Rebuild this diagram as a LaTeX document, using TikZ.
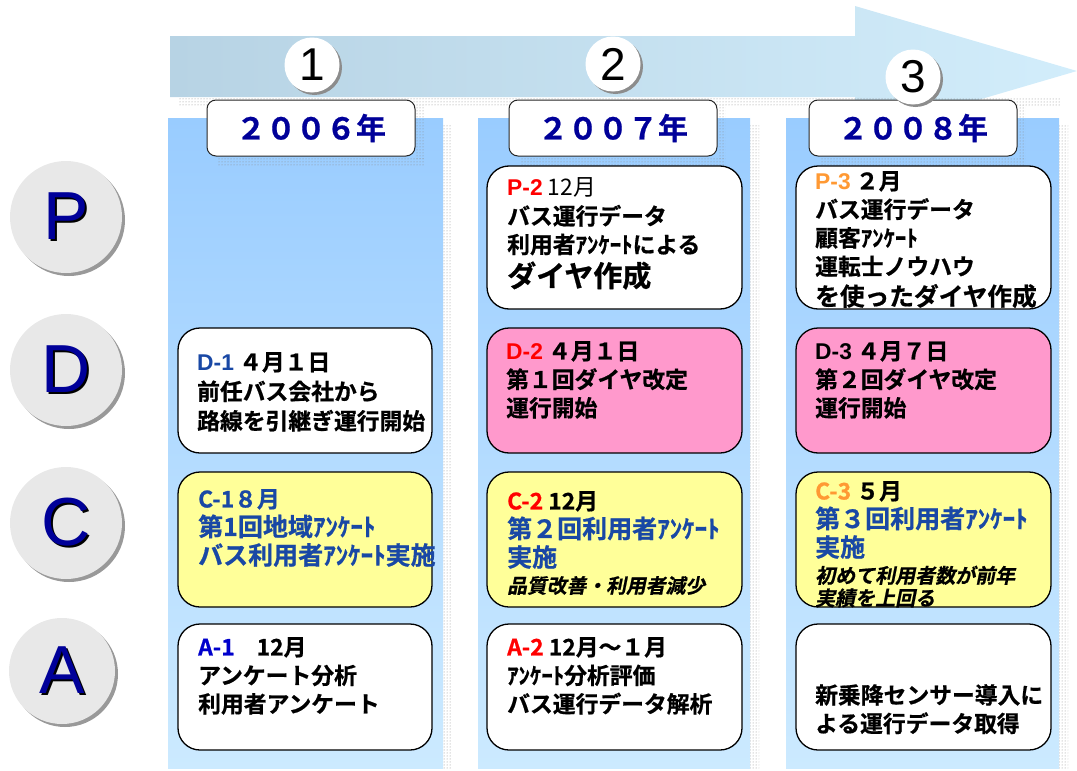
\documentclass[tikz,border=0pt]{standalone}
\usepackage{fontspec}
\setmainfont{Liberation Sans}
\newfontfamily\jpb{Noto Sans CJK JP Bold}[FakeBold=0.7]
\newfontfamily\jpr{Noto Sans CJK JP}
\newfontfamily\jpi{Noto Sans CJK JP Bold}[FakeSlant=0.2,FakeBold=0.7]
\usetikzlibrary{patterns,shadows,calc}
\definecolor{arrL}{RGB}{183,211,228}
\definecolor{arrR}{RGB}{210,237,251}
\definecolor{colT}{RGB}{153,204,255}
\definecolor{colB}{RGB}{204,234,255}
\definecolor{pinkc}{RGB}{255,153,204}
\definecolor{yell}{RGB}{255,255,153}
\definecolor{navy}{RGB}{0,0,153}
\definecolor{bluet}{RGB}{25,72,165}
\definecolor{bluea}{RGB}{0,0,204}
\definecolor{orng}{RGB}{255,153,51}
\definecolor{cgray}{RGB}{232,232,232}
\newcommand\lbl[2]{{\rmfamily\bfseries\color{#1}#2}}
\tikzset{
  card/.style={draw=black, line width=1.3pt, rounded corners=22pt, inner sep=0pt},
  yearbox/.style={draw=black!85, line width=1pt, fill=white, rounded corners=9pt,
    minimum width=208pt, minimum height=56pt, inner sep=0pt,
    text=navy, font=\jpb\fontsize{30}{32}\selectfont},
  txt/.style={anchor=north west, align=left, inner sep=0pt,
    font=\jpb\fontsize{22.8}{28.5}\selectfont},
  numc/.style={circle, fill=white, minimum size=55pt, inner sep=0pt,
    drop shadow={shadow xshift=2.5pt, shadow yshift=-2.5pt, fill=black!45, opacity=1},
    font=\rmfamily\fontsize{46}{46}\selectfont},
  pdca/.style={circle, fill=cgray, minimum size=112pt, inner sep=0pt,
    drop shadow={shadow xshift=3pt, shadow yshift=-3pt, fill=black!40, opacity=1}},
  letter/.style={inner sep=0pt, font=\rmfamily\fontsize{68}{68}\selectfont},
  dotsh/.style={pattern=dots, pattern color=black!45}
}
\begin{document}
\begin{tikzpicture}[x=1pt,y=-1pt]
\useasboundingbox (0,0) rectangle (1077,771);
% timeline arrow
\shade[left color=arrL, right color=arrR]
  (170,36) -- (855,36) -- (855,6) -- (1077,71) -- (855,136) -- (855,97) -- (170,97) -- cycle;
\fill[dotsh] (178,98) rectangle (1060,106);
% columns
\foreach \a/\b in {168/443,478/750,786/1059}{
  \shade[top color=colT, bottom color=colB] (\a,118) rectangle (\b,768);
  \fill[dotsh] (\b,124) rectangle ({\b+9},768);
}
% year boxes
\node[yearbox] (y1) at (311,128) {２００６年};
\node[yearbox] (y2) at (613,128) {２００７年};
\node[yearbox] (y3) at (913,128) {２００８年};
\foreach \y in {y1,y2,y3}{
  \fill[dotsh] ($(\y.south west)+(12,2)$) rectangle ($(\y.south east)+(8,9)$);
  \fill[dotsh] ($(\y.north east)+(1,6)$) rectangle ($(\y.south east)+(8,2)$);
}
% number circles
\node[numc] (n1) at (312,65) {1};
\node[numc] (n2) at (613,64) {2};
\node[numc] (n3) at (913,77) {3};
% PDCA circles
\node[pdca] (cp) at (66,217) {};
\node[pdca] (cd) at (66,370) {};
\node[pdca] (cc) at (66,523) {};
\node[pdca, minimum size=106pt] (ca) at (62,671) {};
\foreach \n/\l in {cp/P,cd/D,cc/C,ca/A}{
  \node[letter] (\n l) at (\n) {\rlap{\kern2.5pt\raisebox{-2.5pt}{\color{black}\l}}\textcolor{navy}{\l}};
}
% cards
\node[card, fill=white, minimum width=255pt, minimum height=143pt] (p2) at (614.5,237.5) {};
\node[card, fill=white, minimum width=255pt, minimum height=143pt] (p3) at (923.5,237.5) {};
\node[card, fill=white, minimum width=254pt, minimum height=125pt] (d1) at (305,390.5) {};
\node[card, fill=pinkc, minimum width=255pt, minimum height=125pt] (d2) at (614.5,390.5) {};
\node[card, fill=pinkc, minimum width=255pt, minimum height=125pt] (d3) at (923.5,390.5) {};
\node[card, fill=yell, minimum width=254pt, minimum height=135pt] (c1) at (305,539.5) {};
\node[card, fill=yell, minimum width=255pt, minimum height=135pt] (c2) at (614.5,539.5) {};
\node[card, fill=yell, minimum width=255pt, minimum height=135pt] (c3) at (923.5,539.5) {};
\node[card, fill=white, minimum width=254pt, minimum height=126pt] (a1) at (305,687) {};
\node[card, fill=white, minimum width=255pt, minimum height=126pt] (a2) at (614.5,687) {};
\node[card, fill=white, minimum width=255pt, minimum height=126pt] (a3) at (923.5,687) {};
% card texts
\node[txt] (p2t) at (507,177) {\lbl{red}{P-2} {\jpr 12月}\\[1pt]バス運行データ\\利用者ｱﾝｹｰﾄによる\\[5pt]{\fontsize{29}{34}\selectfont ダイヤ作成}};
\node[txt] (p3t) at (815,171) {\lbl{orng}{P-3} ２月\\バス運行データ\\顧客ｱﾝｹｰﾄ\\運転士ノウハウ\\[2pt]{\fontsize{24.7}{30}\selectfont を使ったダイヤ作成}};
\node[txt] (d1t) at (197,352) {\lbl{bluet}{D-1} ４月１日\\[1pt]前任バス会社から\\[1pt]路線を引継ぎ運行開始};
\node[txt] (d2t) at (506,341) {\lbl{red}{D-2} ４月１日\\第１回ダイヤ改定\\運行開始};
\node[txt] (d3t) at (815,341) {\lbl{black}{D-3} ４月７日\\第２回ダイヤ改定\\運行開始};
\node[txt, text=bluet] (c1t) at (198,489) {C-1８月\\{\fontsize{25}{28}\selectfont 第1回地域ｱﾝｹｰﾄ}\\{\fontsize{25}{28}\selectfont バス利用者ｱﾝｹｰﾄ実施}};
\node[txt] (c2t) at (507,491) {{\color{red}C-2} 12月\\{\color{bluet}\fontsize{25}{28}\selectfont 第２回利用者ｱﾝｹｰﾄ}\\{\color{bluet}\fontsize{25}{28}\selectfont 実施}\\[-2pt]{\jpi\fontsize{19.8}{24}\selectfont 品質改善・利用者減少}};
\node[txt] (c3t) at (815,481) {{\color{orng}C-3} ５月\\{\color{bluet}\fontsize{25}{28}\selectfont 第３回利用者ｱﾝｹｰﾄ}\\{\color{bluet}\fontsize{25}{28}\selectfont 実施}\\[-2pt]{\jpi\fontsize{20}{24}\selectfont 初めて利用者数が前年}\\[-6pt]{\jpi\fontsize{20}{24}\selectfont 実績を上回る}};
\node[txt] (a1t) at (198,637) {{\color{bluea}A-1}\hspace{22pt}12月\\アンケート分析\\利用者アンケート};
\node[txt] (a2t) at (507,637) {{\color{red}A-2} 12月～１月\\ｱﾝｹｰﾄ分析評価\\バス運行データ解析};
\node[txt] (a3t) at (815,684) {新乗降センサー導入に\\よる運行データ取得};
\end{tikzpicture}
\end{document}
